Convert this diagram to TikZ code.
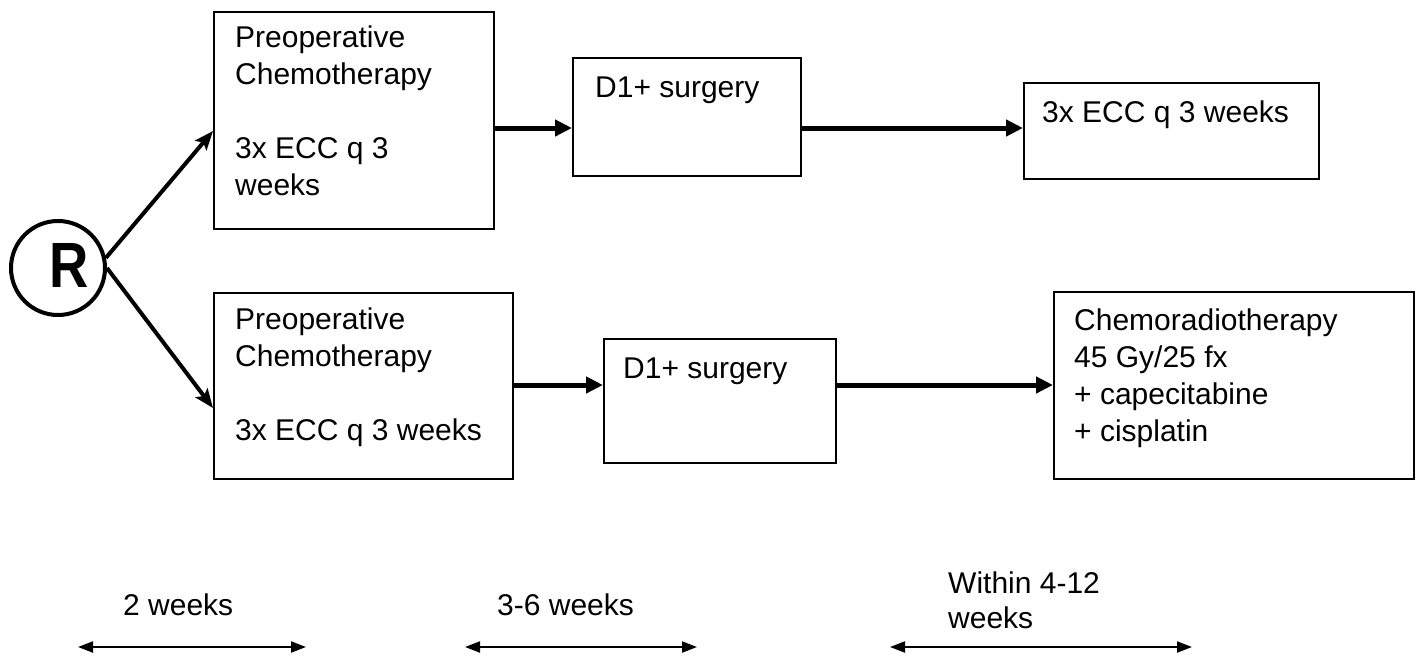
\documentclass[tikz,border=0pt]{standalone}
\usepackage{fontspec}
\setmainfont{Liberation Sans}
\usetikzlibrary{arrows.meta}
\begin{document}
\begin{tikzpicture}[x=1pt,y=-1pt,
  box/.style={draw, line width=2pt, rectangle, inner sep=0pt, anchor=north west},
  txt/.style={anchor=north west, inner sep=0pt, font=\fontsize{30}{37}\selectfont, align=left},
  btxt/.style={anchor=base west, inner sep=0pt, font=\fontsize{30}{36}\selectfont},
  flow/.style={line width=5pt, -{Triangle[length=17pt,width=16pt]}},
  rarr/.style={line width=4pt, -{Stealth[length=19pt,width=15pt,inset=4pt]}},
  span/.style={line width=2pt, {Triangle[length=15pt,width=11pt]}-{Triangle[length=15pt,width=11pt]}}
]
\useasboundingbox (0,0) rectangle (1419,659);

% rows
\coordinate (row1) at (0,128);
\coordinate (row2) at (0,385);

% boxes
\node[box, minimum width=280pt, minimum height=217pt] (tb1) at (213,11) {};
\node[box, minimum width=228pt, minimum height=118pt] (tb2) at (572,57) {};
\node[box, minimum width=295pt, minimum height=96pt] (tb3) at (1023,82) {};
\node[box, minimum width=299pt, minimum height=186pt] (bb1) at (213,292) {};
\node[box, minimum width=232pt, minimum height=124pt] (bb2) at (603,338) {};
\node[box, minimum width=360pt, minimum height=187pt] (bb3) at (1053,291) {};

% texts
\node[txt] (t1) at (235,25.5) {Preoperative\\Chemotherapy\\[37pt]3x ECC q 3\\weeks};
\node[btxt] (t2) at (595,97) {D1+ surgery};
\node[btxt] (t3) at (1042,122) {3x ECC q 3 weeks};
\node[txt] (t4) at (235,307.5) {Preoperative\\Chemotherapy\\[37pt]3x ECC q 3 weeks};
\node[btxt] (t5) at (623,378) {D1+ surgery};
\node[txt] (t6) at (1074,308.5) {Chemoradiotherapy\\45 Gy/25 fx\\+ capecitabine\\+ cisplatin};

% randomisation circle
\node[draw, circle, line width=4pt, minimum size=94pt, inner sep=0pt] (R) at (58,268) {};
\node[anchor=center, inner sep=0pt, font=\fontsize{64}{64}\selectfont\bfseries] (Rt) at (69,265) {\scalebox{0.85}[1]{R}};

\draw[rarr] (R.12) -- (tb1.west |- 0,131);
\draw[rarr] (R.east) -- (bb1.west |- 0,408);

% flow arrows
\draw[flow] (tb1.east |- row1) -- (tb2.west |- row1);
\draw[flow] (tb2.east |- row1) -- (tb3.west |- row1);
\draw[flow] (bb1.east |- row2) -- (bb2.west |- row2);
\draw[flow] (bb2.east |- row2) -- (bb3.west |- row2);

% time spans
\coordinate (s1a) at (78,647);  \coordinate (s1b) at (306,647);
\coordinate (s2a) at (465,647); \coordinate (s2b) at (697,647);
\coordinate (s3a) at (890,647); \coordinate (s3b) at (1192,647);
\draw[span] (s1a) -- (s1b);
\draw[span] (s2a) -- (s2b);
\draw[span] (s3a) -- (s3b);

\node[btxt] (l1) at (123,615) {2 weeks};
\node[btxt] (l2) at (497,615) {3-6 weeks};
\node[txt, font=\fontsize{30}{35}\selectfont] (l3) at (948,571.5) {Within 4-12\\weeks};
\end{tikzpicture}
\end{document}
